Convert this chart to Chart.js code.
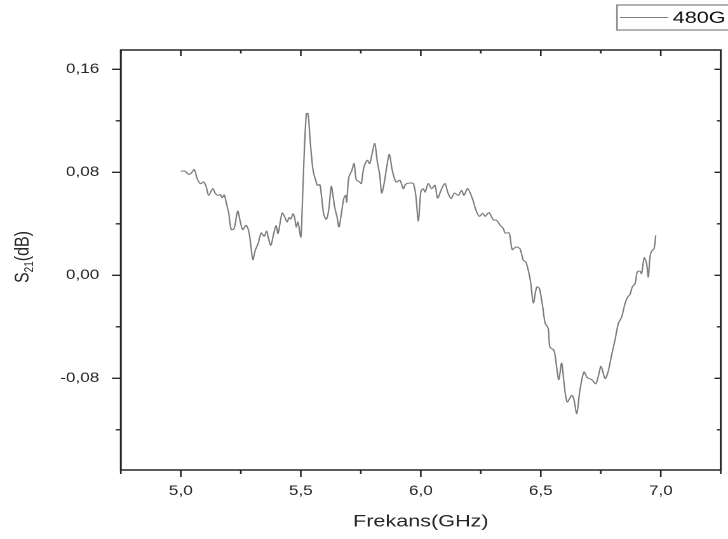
<!DOCTYPE html>
<html>
<head>
<meta charset="utf-8">
<script src="https://cdn.jsdelivr.net/npm/chart.js@4/dist/chart.umd.min.js"></script>
<style>
  html, body { margin: 0; padding: 0; background: #fff; overflow: hidden; width: 728px; height: 539px; }
  /* the plot is laid out on a narrower canvas and widened horizontally */
  #wrap { position: absolute; left: 0; top: 0; width: 573px; height: 539px;
          transform-origin: 0 0; transform: scaleX(1.27051); }
</style>
</head>
<body>
<div id="wrap"><canvas id="chart" width="573" height="539"></canvas></div>
<script>
// Frequency (GHz)
const freqGHz = [
  5.000,5.016,5.033,5.044,5.056,5.068,5.081,5.095,5.106,5.116,
  5.133,5.144,5.154,5.165,5.172,5.181,5.190,5.200,5.210,5.222,
  5.237,5.248,5.258,5.272,5.285,5.300,5.310,5.322,5.335,5.347,
  5.358,5.363,5.375,5.387,5.397,5.405,5.422,5.433,5.443,5.451,
  5.458,5.468,5.475,5.481,5.488,5.500,5.505,5.513,5.523,5.530,
  5.540,5.551,5.562,5.569,5.579,5.585,5.595,5.606,5.616,5.627,
  5.634,5.641,5.651,5.659,5.669,5.679,5.687,5.691,5.700,5.713,
  5.722,5.731,5.745,5.752,5.763,5.777,5.787,5.797,5.808,5.819,
  5.829,5.837,5.847,5.857,5.869,5.881,5.897,5.913,5.927,5.937,
  5.955,5.969,5.979,5.990,6.000,6.010,6.018,6.031,6.045,6.059,
  6.070,6.087,6.101,6.112,6.126,6.140,6.156,6.170,6.180,6.195,
  6.215,6.230,6.244,6.258,6.268,6.284,6.302,6.316,6.331,6.344,
  6.351,6.368,6.381,6.397,6.413,6.427,6.438,6.451,6.458,6.469,
  6.483,6.494,6.508,6.518,6.531,6.538,6.555,6.566,6.575,6.587,
  6.597,6.610,6.629,6.638,6.650,6.663,6.680,6.694,6.712,6.730,
  6.750,6.755,6.768,6.780,6.795,6.809,6.823,6.837,6.851,6.862,
  6.872,6.881,6.893,6.902,6.913,6.920,6.931,6.941,6.948,6.955,
  6.962,6.972,6.979
];

// S21 (dB) of the 480G sample
const s21dB = [
  0.0808,0.0810,0.0784,0.0795,0.0821,0.0751,0.0712,0.0725,0.0686,0.0621,
  0.0673,0.0635,0.0621,0.0627,0.0603,0.0624,0.0557,0.0479,0.0355,0.0363,
  0.0499,0.0414,0.0355,0.0388,0.0324,0.0122,0.0194,0.0246,0.0329,0.0303,
  0.0344,0.0303,0.0233,0.0324,0.0388,0.0324,0.0484,0.0453,0.0414,0.0448,
  0.0437,0.0479,0.0440,0.0375,0.0414,0.0297,0.0479,0.0893,0.1256,0.1256,
  0.1023,0.0816,0.0738,0.0699,0.0704,0.0635,0.0479,0.0435,0.0505,0.0691,
  0.0621,0.0530,0.0453,0.0375,0.0479,0.0596,0.0621,0.0569,0.0759,0.0816,
  0.0868,0.0743,0.0725,0.0712,0.0841,0.0893,0.0868,0.0945,0.1023,0.0880,
  0.0777,0.0639,0.0712,0.0831,0.0940,0.0816,0.0725,0.0738,0.0673,0.0707,
  0.0717,0.0712,0.0621,0.0422,0.0647,0.0673,0.0647,0.0712,0.0673,0.0699,
  0.0600,0.0673,0.0712,0.0647,0.0596,0.0639,0.0621,0.0660,0.0621,0.0673,
  0.0596,0.0505,0.0458,0.0482,0.0458,0.0487,0.0431,0.0427,0.0388,0.0363,
  0.0329,0.0329,0.0200,0.0220,0.0207,0.0117,0.0103,0.0013,-0.0060,-0.0215,
  -0.0091,-0.0101,-0.0246,-0.0370,-0.0414,-0.0557,-0.0583,-0.0712,-0.0810,-0.0681,
  -0.0841,-0.0984,-0.0932,-0.0965,-0.1074,-0.0893,-0.0751,-0.0795,-0.0810,-0.0841,
  -0.0707,-0.0725,-0.0802,-0.0753,-0.0621,-0.0505,-0.0375,-0.0324,-0.0220,-0.0169,
  -0.0148,-0.0091,-0.0064,0.0026,0.0033,0.0013,0.0137,0.0091,-0.0013,0.0142,
  0.0189,0.0207,0.0311
];

const seriesName = '480G';
const xTickValues = [5.0, 5.5, 6.0, 6.5, 7.0];
const xMinorValues = [4.75, 5.25, 5.75, 6.25, 6.75, 7.25];
const yTickValues = [-0.08, 0.0, 0.08, 0.16];
const yMinorValues = [-0.12, -0.04, 0.04, 0.12];

const FONT = '"Liberation Sans", Arial, Helvetica, sans-serif';
const LINE_COLOR = '#7c7c7c';
const TEXT_COLOR = '#262626';

const points = freqGHz.map((f, i) => ({ x: f, y: s21dB[i] }));

// Box frame, tick marks, y-axis title with subscript and the legend box
const framePlugin = {
  id: 'originFrame',
  afterDraw(chart) {
    const { ctx, chartArea: { left, right, top, bottom }, scales: { x, y } } = chart;
    ctx.save();
    ctx.strokeStyle = '#262626';
    ctx.lineWidth = 1.5;
    ctx.strokeRect(left, top, right - left, bottom - top);

    ctx.lineWidth = 1.3;
    ctx.beginPath();
    const xt = (vals, outLen, inLen) => vals.forEach(v => {
      const px = x.getPixelForValue(v);
      ctx.moveTo(px, bottom); ctx.lineTo(px, bottom + outLen);
      ctx.moveTo(px, top); ctx.lineTo(px, top + inLen);
    });
    const yt = (vals, outLen, inLen) => vals.forEach(v => {
      const py = y.getPixelForValue(v);
      ctx.moveTo(left, py); ctx.lineTo(left - outLen, py);
      ctx.moveTo(right, py); ctx.lineTo(right - inLen, py);
    });
    xt(xTickValues, 7, 6);
    xt(xMinorValues, 4, 3.5);
    yt(yTickValues, 7, 5);
    yt(yMinorValues, 4, 3);
    ctx.stroke();

    // y-axis title: S21(dB) with subscript
    ctx.fillStyle = TEXT_COLOR;
    ctx.textBaseline = 'middle';
    ctx.textAlign = 'left';
    const mainFont = '16px ' + FONT;
    const subFont = '10px ' + FONT;
    ctx.font = mainFont;
    const wS = ctx.measureText('S').width;
    const wRest = ctx.measureText('(dB)').width;
    ctx.font = subFont;
    const wSub = ctx.measureText('21').width;
    const total = wS + wSub + wRest;
    ctx.translate(18, (top + bottom) / 2 - 3);
    ctx.rotate(-Math.PI / 2);
    let tx = -total / 2;
    ctx.font = mainFont;
    ctx.fillText('S', tx, 0);
    tx += wS;
    ctx.font = subFont;
    ctx.fillText('21', tx, 5);
    tx += wSub;
    ctx.font = mainFont;
    ctx.fillText('(dB)', tx, 0);
    ctx.restore();

    // legend box in the top right corner
    ctx.save();
    ctx.strokeStyle = '#8a8a8a';
    ctx.lineWidth = 1.3;
    ctx.strokeRect(485.6, 5, 120, 25);
    ctx.strokeStyle = LINE_COLOR;
    ctx.lineWidth = 1.1;
    ctx.beginPath();
    ctx.moveTo(488, 17.5);
    ctx.lineTo(526, 17.5);
    ctx.stroke();
    ctx.fillStyle = '#111';
    ctx.font = '17px ' + FONT;
    ctx.textBaseline = 'middle';
    ctx.textAlign = 'left';
    ctx.fillText(seriesName, 529.5, 18.5);
    ctx.restore();
  }
};

new Chart(document.getElementById('chart'), {
  type: 'line',
  data: {
    datasets: [{
      label: seriesName,
      data: points,
      borderColor: LINE_COLOR,
      borderWidth: 1.1,
      pointRadius: 0,
      tension: 0.3,
      fill: false
    }]
  },
  options: {
    responsive: false,
    animation: false,
    devicePixelRatio: 2,
    layout: { padding: { top: 50, right: 5.7, left: 0, bottom: 0 } },
    plugins: { legend: { display: false }, tooltip: { enabled: false } },
    scales: {
      x: {
        type: 'linear',
        min: 4.75,
        max: 7.25,
        afterBuildTicks: s => { s.ticks = xTickValues.map(v => ({ value: v })); },
        afterFit: s => { s.height = 69; },
        grid: { display: true, drawOnChartArea: false, drawTicks: false },
        border: { display: false },
        ticks: {
          padding: 13,
          color: TEXT_COLOR,
          font: { family: FONT, size: 13.5 },
          maxRotation: 0,
          autoSkip: false,
          callback: v => Number(v).toFixed(1).replace('.', ',')
        },
        title: {
          display: true,
          text: 'Frekans(GHz)',
          color: TEXT_COLOR,
          font: { family: FONT, size: 17 },
          padding: { top: 0, bottom: 6.8 }
        }
      },
      y: {
        type: 'linear',
        min: -0.1512,
        max: 0.175,
        afterBuildTicks: s => { s.ticks = yTickValues.map(v => ({ value: v })); },
        afterFit: s => { s.width = 95.1; },
        grid: { display: true, drawOnChartArea: false, drawTicks: false },
        border: { display: false },
        ticks: {
          padding: 17,
          color: TEXT_COLOR,
          font: { family: FONT, size: 13.5 },
          autoSkip: false,
          callback: v => Number(v).toFixed(2).replace('.', ',')
        }
      }
    }
  },
  plugins: [framePlugin]
});
</script>
</body>
</html>
